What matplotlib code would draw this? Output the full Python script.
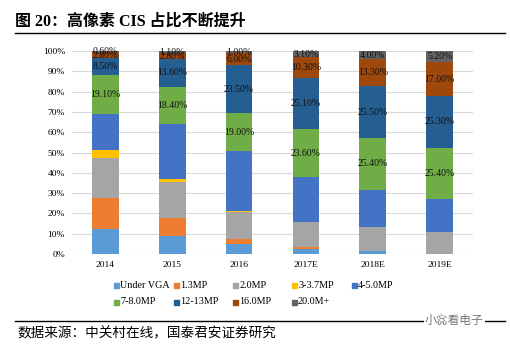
import matplotlib
matplotlib.use("Agg")
import matplotlib.pyplot as plt
from matplotlib.patches import Rectangle
from matplotlib.lines import Line2D
import numpy as np

years = ["2014", "2015", "2016", "2017E", "2018E", "2019E"]
series_names = ["Under VGA", "1.3MP", "2.0MP", "3-3.7MP", "4-5.0MP",
                "7-8.0MP", "12-13MP", "16.0MP", "20.0M+"]
colors = ["#5B9BD5", "#ED7D31", "#A5A5A5", "#FFC000", "#4472C4",
          "#70AD47", "#255E91", "#9E480E", "#636363"]

under_vga = [12.5, 9.0, 4.9, 2.6, 1.3, 0.0]
mp1_3     = [15.2, 8.9, 2.5, 1.0, 0.0, 0.0]
mp2_0     = [19.7, 17.7, 13.1, 12.2, 11.8, 10.7]
mp3_3_7   = [3.8, 1.2, 0.5, 0.0, 0.0, 0.0]
mp4_5     = [17.8, 27.3, 29.5, 22.1, 18.6, 16.3]
mp7_8     = [19.1, 18.4, 19.0, 23.6, 25.4, 25.4]
mp12_13   = [8.5, 13.6, 23.5, 25.1, 25.5, 25.3]
mp16      = [2.8, 2.8, 6.0, 10.3, 13.3, 17.0]
mp20      = [0.6, 1.1, 1.0, 3.1, 4.0, 5.2]

series = [under_vga, mp1_3, mp2_0, mp3_3_7, mp4_5, mp7_8, mp12_13, mp16, mp20]
labeled = {5, 6, 7, 8}

fam = ["Liberation Serif", "Noto Sans CJK SC", "DejaVu Sans"]
plt.rcParams["font.family"] = fam

fig = plt.figure(figsize=(5.11, 3.45), dpi=100)
W, H = 511, 345
ax = fig.add_axes([72 / W, (H - 254) / H, (473 - 72) / W, (254 - 51) / H])

x = np.arange(len(years))
bottom = np.zeros(len(years))
for i, (vals, c) in enumerate(zip(series, colors)):
    v = np.array(vals) / 100.0
    ax.bar(x, v, 0.4, bottom=bottom, color=c, zorder=3)
    if i in labeled:
        for xi, (b, h, raw) in enumerate(zip(bottom, v, vals)):
            ax.text(xi, b + h / 2, f"{raw:.2f}%", ha="center", va="center",
                    fontsize=7, color="#111111", zorder=4)
    bottom += v

ax.set_xlim(-0.5, 5.5)
ax.set_ylim(0, 1.0)
ax.set_yticks(np.arange(0, 1.01, 0.1))
ax.set_yticklabels([f"{int(round(t*100))}%" for t in np.arange(0, 1.01, 0.1)], fontsize=6.8)
ax.set_xticks(x)
ax.set_xticklabels(years, fontsize=6.8)
ax.tick_params(length=0, pad=5)
ax.grid(axis="y", color="#D9D9D9", linewidth=0.8, zorder=0)
for s in ax.spines.values():
    s.set_visible(False)

# legend (manual, 5 columns)
col_x = [114, 174, 233, 292, 352]
row_y = [285, 302]
for i, (name, c) in enumerate(zip(series_names, colors)):
    r, cc = divmod(i, 5)
    px, py = col_x[cc], row_y[r]
    fig.add_artist(Rectangle((px / W, (H - py - 2.5) / H), 5 / W, 5 / H,
                             color=c, transform=fig.transFigure))
    fig.text((px + 6) / W, (H - py) / H, name, fontsize=7.3, va="center", ha="left")

# title and rules
fig.text(15 / W, (H - 22) / H, "图 20：高像素 CIS 占比不断提升", fontsize=11.5,
         fontweight="bold", va="center", ha="left")
fig.add_artist(Line2D([15 / W, 505 / W], [(H - 33) / H] * 2, color="black",
                      linewidth=1.0, transform=fig.transFigure))
fig.add_artist(Line2D([15 / W, 505 / W], [(H - 321) / H] * 2, color="black",
                      linewidth=1.0, transform=fig.transFigure))
fig.text(425 / W, (H - 321) / H, "小惢看电子", fontsize=8.5, color="#777777",
         va="center", ha="left",
         bbox=dict(facecolor="white", edgecolor="none", pad=1))
fig.text(17 / W, (H - 334) / H, "数据来源：中关村在线，国泰君安证券研究", fontsize=9.8,
         va="center", ha="left")

fig.savefig("out.png", dpi=100)
